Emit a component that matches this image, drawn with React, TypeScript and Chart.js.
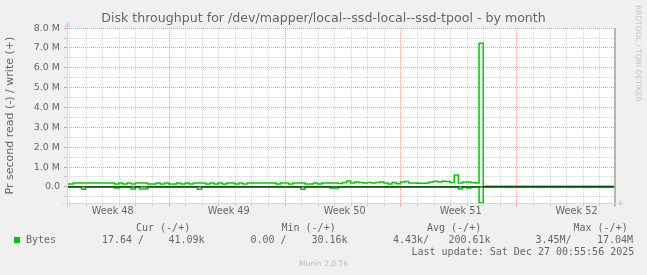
import React, { useEffect, useRef } from 'react';
import { Chart, registerables } from 'chart.js';

Chart.register(...registerables);

// ---- data (x in days relative to the first major grid line, 6-hour samples) ----
const TITLE = 'Disk throughput for /dev/mapper/local--ssd-local--ssd-tpool - by month';
const Y_TITLE = 'Pr second read (-) / write (+)';
const X_START = -6.16;
const X_END = 26.92;
const SAMPLE_STEP = 0.25;

// write (+) in M bytes/s
const WRITE_M = [
  0.15, 0.15, 0.2, 0.2, 0.2, 0.2, 0.2, 0.2, 0.2, 0.2,
  0.2, 0.2, 0.15, 0.2, 0.15, 0.2, 0.15, 0.2, 0.2, 0.2,
  0.15, 0.15, 0.2, 0.15, 0.2, 0.15, 0.15, 0.2, 0.15, 0.2,
  0.15, 0.2, 0.2, 0.2, 0.15, 0.2, 0.15, 0.2, 0.15, 0.2,
  0.2, 0.15, 0.2, 0.15, 0.2, 0.2, 0.2, 0.2, 0.2, 0.2,
  0.2, 0.15, 0.2, 0.2, 0.15, 0.2, 0.2, 0.2, 0.15, 0.15,
  0.2, 0.15, 0.2, 0.2, 0.2, 0.2, 0.17, 0.22, 0.3, 0.2,
  0.25, 0.22, 0.2, 0.22, 0.2, 0.22, 0.25, 0.2, 0.15, 0.22,
  0.16, 0.25, 0.27, 0.2, 0.2, 0.18, 0.18, 0.2, 0.25, 0.28,
  0.25, 0.28, 0.27, 0.22, 0.6, 0.2, 0.25, 0.25, 0.22, 0.2,
  7.24, 0.04, 0.04, 0.04, 0.04, 0.04, 0.04, 0.04, 0.04, 0.04,
  0.04, 0.04, 0.04, 0.04, 0.04, 0.04, 0.04, 0.04, 0.04, 0.04,
  0.04, 0.04, 0.04, 0.04, 0.04, 0.04, 0.04, 0.04, 0.04, 0.04,
  0.04, 0.04, 0.04,
];

// read (-) in M bytes/s
const READ_M = [
  0, 0, 0, 0, -0.12, 0, 0, 0, 0, 0,
  0, 0, -0.06, 0, 0, 0, -0.1, 0, -0.1, -0.1,
  0, 0, 0, 0, 0, 0, 0, 0, 0, 0,
  0, 0, -0.12, 0, 0, 0, 0, 0, 0, 0,
  0, 0, 0, 0, 0, 0, 0, 0, 0, 0,
  0, 0, 0, 0, 0, 0, 0, -0.12, 0, 0,
  0, 0, 0, 0, -0.05, -0.05, 0, 0, 0, 0,
  0, 0, 0, 0, 0, 0, 0, 0, 0, 0,
  0, 0, 0, 0, 0, 0, 0, 0, 0, 0,
  0, 0, 0, 0, 0, -0.1, 0, -0.05, 0, 0,
  -0.8, 0, 0, 0, 0, 0, 0, 0, 0, 0,
  0, 0, 0, 0, 0, 0, 0, 0, 0, 0,
  0, 0, 0, 0, 0, 0, 0, 0, 0, 0,
  0, 0, 0,
];

const Y_MIN = -0.81;
const Y_MAX = 8.0;
const Y_MAJOR_TICKS = [0, 1, 2, 3, 4, 5, 6, 7, 8];
const Y_MINOR_TICKS = [-0.5, 0.5, 1.5, 2.5, 3.5, 4.5, 5.5, 6.5, 7.5];
const Y_TICK_LABELS = ['0.0', '1.0 M', '2.0 M', '3.0 M', '4.0 M', '5.0 M', '6.0 M', '7.0 M', '8.0 M'];

const X_DAY_TICKS = [
  -6, -5, -4, -3, -2, -1, 0, 1, 2, 3, 4, 5, 6, 7, 8, 9, 10, 11, 12, 13,
  14, 15, 16, 17, 18, 19, 20, 21, 22, 23, 24, 25, 26,
];
const X_WEEK_TICKS = [0, 7, 14, 21];
const WEEK_LABELS = ['Week 48', 'Week 49', 'Week 50', 'Week 51', 'Week 52'];
const WEEK_LABEL_POS = [-3.4, 3.6, 10.6, 17.6, 24.6];

const LEGEND_HEADERS = ['Cur (-/+)', 'Min (-/+)', 'Avg (-/+)', 'Max (-/+)'];
const LEGEND_SERIES = 'Bytes';
const LEGEND_READ = ['17.64 /', '0.00 /', '4.43k/', '3.45M/'];
const LEGEND_WRITE = ['41.09k', '30.16k', '200.61k', '17.04M'];
const LAST_UPDATE = 'Last update: Sat Dec 27 00:55:56 2025';
const VERSION = 'Munin 2.0.76';
const WATERMARK = 'RRDTOOL / TOBI OETIKER';

// ---- styles ----
const FONT = 'DejaVu Sans';
const MONO = 'DejaVu Sans Mono';
const TEXT = '#666666';
const LINE_GREEN = '#00CC00';
const AXIS_BLUE = '#CFD6F8';
const MGRID = 'rgba(222,81,81,0.55)';
const GRID = 'rgba(143,143,143,0.38)';

const HEADER_X = [136, 281.5, 427, 573.5];
const READ_X = [102, 250.5, 393, 535.5];
const WRITE_X = [168.5, 311.5, 448.5, 597];

const bgPlugin = {
  id: 'bg',
  beforeDraw(chart: any) {
    const { ctx, chartArea: a } = chart;
    ctx.save();
    ctx.fillStyle = '#F0F0F0';
    ctx.fillRect(0, 0, chart.width, chart.height);
    ctx.fillStyle = '#FFFFFF';
    ctx.fillRect(a.left, a.top, a.right - a.left, a.bottom - a.top);
    ctx.restore();
  },
};

const axesPlugin = {
  id: 'axes',
  afterDraw(chart: any) {
    const { ctx, chartArea: a } = chart;
    const l = Math.round(a.left) + 0.5;
    const b = Math.round(a.bottom) + 0.5;
    const r = Math.round(a.right);
    const t = Math.round(a.top);
    ctx.save();
    // right frame line
    ctx.strokeStyle = '#A0A0A0';
    ctx.lineWidth = 1.5;
    ctx.beginPath();
    ctx.moveTo(r, t);
    ctx.lineTo(r, b + 3);
    ctx.stroke();
    // axes
    ctx.strokeStyle = AXIS_BLUE;
    ctx.fillStyle = AXIS_BLUE;
    ctx.lineWidth = 1;
    ctx.beginPath();
    ctx.moveTo(l - 5, b);
    ctx.lineTo(r + 5, b);
    ctx.moveTo(l, b + 4);
    ctx.lineTo(l, t - 2);
    ctx.stroke();
    ctx.beginPath();
    ctx.moveTo(r + 4, b - 3.5);
    ctx.lineTo(r + 9, b);
    ctx.lineTo(r + 4, b + 3.5);
    ctx.closePath();
    ctx.fill();
    ctx.beginPath();
    ctx.moveTo(l - 3.5, t - 1);
    ctx.lineTo(l, t - 7);
    ctx.lineTo(l + 3.5, t - 1);
    ctx.closePath();
    ctx.fill();
    ctx.restore();
  },
};

function ChartCanvas() {
  const ref = useRef<HTMLCanvasElement | null>(null);
  useEffect(() => {
    const canvas = ref.current;
    if (!canvas) return;
    const xOf = (i: number) => X_START + i * SAMPLE_STEP;
    const yTicks = [...Y_MINOR_TICKS, ...Y_MAJOR_TICKS].sort((p, q) => p - q);
    const xTicks = [...X_DAY_TICKS, ...WEEK_LABEL_POS].sort((p, q) => p - q);
    const xGridColor = (c: any) => {
      const v = c.tick ? c.tick.value : 0;
      if (WEEK_LABEL_POS.includes(v)) return 'rgba(0,0,0,0)';
      if (X_WEEK_TICKS.includes(v)) return MGRID;
      return GRID;
    };
    const yGridColor = (c: any) => {
      const v = c.tick ? c.tick.value : 0;
      if (Y_MAJOR_TICKS.includes(v)) return MGRID;
      return GRID;
    };
    const chart = new Chart(canvas, {
      type: 'line',
      data: {
        datasets: [
          {
            label: 'zero',
            data: [{ x: X_START, y: 0 }, { x: X_END, y: 0 }],
            borderColor: '#000000',
            borderWidth: 1,
            pointRadius: 0,
            order: 0,
          },
          {
            label: 'write',
            data: WRITE_M.map((v, i) => ({ x: xOf(i), y: v })),
            borderColor: LINE_GREEN,
            borderWidth: 1.5,
            pointRadius: 0,
            stepped: 'middle',
            order: 1,
          },
          {
            label: 'read',
            data: READ_M.map((v, i) => ({ x: xOf(i), y: v })),
            borderColor: LINE_GREEN,
            borderWidth: 1.5,
            pointRadius: 0,
            stepped: 'middle',
            order: 2,
          },
        ],
      },
      options: {
        animation: false,
        responsive: false,
        devicePixelRatio: 1,
        events: [],
        layout: { padding: 0 },
        plugins: {
          legend: { display: false },
          tooltip: { enabled: false },
          title: {
            display: true,
            text: TITLE,
            color: TEXT,
            font: { family: FONT, size: 12.6, weight: 'normal' },
            padding: { top: 11.5, bottom: 1.5 },
          },
        },
        scales: {
          x: {
            type: 'linear',
            min: X_START,
            max: X_END,
            afterFit: (s: any) => {
              s.height = 72;
            },
            afterBuildTicks: (s: any) => {
              s.ticks = xTicks.map((v) => ({ value: v }));
            },
            ticks: {
              autoSkip: false,
              maxRotation: 0,
              padding: 0,
              color: TEXT,
              font: { family: FONT, size: 9.7 },
              callback: (v: any) => {
                const k = WEEK_LABEL_POS.indexOf(Number(v));
                return k >= 0 ? WEEK_LABELS[k] : '';
              },
            },
            grid: { color: xGridColor, tickColor: xGridColor, lineWidth: 1, tickLength: 3 },
            border: { display: false, dash: [1, 1] },
          },
          y: {
            type: 'linear',
            min: Y_MIN,
            max: Y_MAX,
            afterFit: (s: any) => {
              s.width = 67;
            },
            afterBuildTicks: (s: any) => {
              s.ticks = yTicks.map((v) => ({ value: v }));
            },
            ticks: {
              autoSkip: false,
              padding: 4,
              color: TEXT,
              font: { family: FONT, size: 9.5 },
              callback: (v: any) => {
                const k = Y_MAJOR_TICKS.indexOf(Number(v));
                return k >= 0 ? Y_TICK_LABELS[k] : '';
              },
            },
            title: {
              display: true,
              text: Y_TITLE,
              color: TEXT,
              font: { family: FONT, size: 11 },
              padding: { top: 4, bottom: 0 },
            },
            grid: { color: yGridColor, tickColor: yGridColor, lineWidth: 1, tickLength: 3 },
            border: { display: false, dash: [1, 1] },
          },
          yRight: {
            type: 'linear',
            position: 'right',
            min: Y_MIN,
            max: Y_MAX,
            afterFit: (s: any) => {
              s.width = 32;
            },
            ticks: { display: false },
            grid: { display: false },
            border: { display: false },
          },
        },
      },
      plugins: [bgPlugin, axesPlugin],
    } as any);
    return () => chart.destroy();
  }, []);
  return <canvas ref={ref} width={647} height={275} style={{ position: 'absolute', left: 0, top: 0, width: 647, height: 275 }} />;
}

const mono: React.CSSProperties = {
  position: 'absolute',
  fontFamily: MONO,
  fontSize: '10px',
  lineHeight: '12px',
  color: TEXT,
  whiteSpace: 'pre',
};

export default function App() {
  return (
    <div style={{ position: 'fixed', left: 0, top: 0, width: 647, height: 275, background: '#F0F0F0', overflow: 'hidden' }}>
      <ChartCanvas />
      {LEGEND_HEADERS.map((h, i) => (
        <div key={'h' + i} style={{ ...mono, left: HEADER_X[i], top: 222 }}>{h}</div>
      ))}
      <div style={{ position: 'absolute', left: 14, top: 237, width: 6, height: 6, background: LINE_GREEN }} />
      <div style={{ ...mono, left: 26, top: 234 }}>{LEGEND_SERIES}</div>
      {LEGEND_READ.map((t, i) => (
        <div key={'r' + i} style={{ ...mono, left: READ_X[i], top: 234 }}>{t}</div>
      ))}
      {LEGEND_WRITE.map((t, i) => (
        <div key={'w' + i} style={{ ...mono, left: WRITE_X[i], top: 234 }}>{t}</div>
      ))}
      <div style={{ ...mono, left: 411.5, top: 246 }}>{LAST_UPDATE}</div>
      <div
        style={{
          position: 'absolute',
          left: 0,
          width: 647,
          top: 259,
          textAlign: 'center',
          fontFamily: FONT,
          fontSize: '7.5px',
          lineHeight: '10px',
          color: '#BBBBBB',
        }}
      >
        {VERSION}
      </div>
      <div
        style={{
          position: 'absolute',
          left: 633,
          top: 5,
          writingMode: 'vertical-rl',
          fontFamily: FONT,
          fontSize: '7.5px',
          lineHeight: '10px',
          color: '#C4C4C4',
          whiteSpace: 'pre',
        }}
      >
        {WATERMARK}
      </div>
    </div>
  );
}
